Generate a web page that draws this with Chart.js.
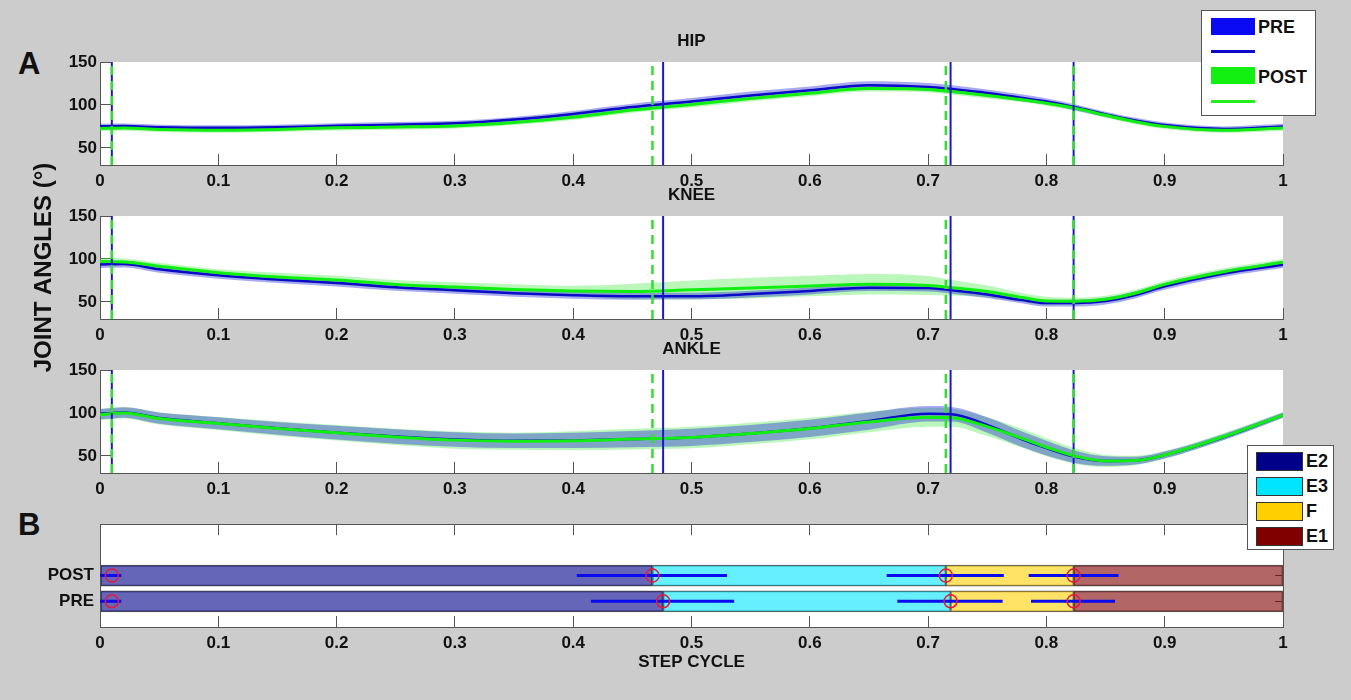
<!DOCTYPE html>
<html><head><meta charset="utf-8">
<script src="https://cdn.jsdelivr.net/npm/chart.js"></script>
<style>
html,body{margin:0;padding:0;background:#cccccc;width:1351px;height:700px;overflow:hidden;font-family:'Liberation Sans',Arial,Helvetica,sans-serif;}
canvas{position:absolute;left:0;}
.big{position:absolute;font-weight:bold;font-size:31px;line-height:31px;color:#111;}
.legend{position:absolute;background:#fff;border:1px solid #555;box-sizing:border-box;z-index:10;}
.legend div{position:absolute;}
.lt{font-weight:bold;font-size:18px;line-height:18px;color:#111;}
</style></head>
<body>
<div class="big" style="left:18px;top:48px;">A</div>
<div class="big" style="left:18px;top:509px;">B</div>
<canvas id="hip"></canvas>
<canvas id="knee"></canvas>
<canvas id="ankle"></canvas>
<canvas id="steps"></canvas>

<div class="legend" style="left:1201px;top:10px;width:115px;height:106px;">
  <div style="left:9px;top:7px;width:44px;height:17px;background:#0a0af5;"></div>
  <div class="lt" style="left:56px;top:7px;">PRE</div>
  <div style="left:9px;top:39px;width:44px;height:3px;background:#0a0ac8;"></div>
  <div style="left:9px;top:56px;width:44px;height:17px;background:#11f011;"></div>
  <div class="lt" style="left:56px;top:57px;">POST</div>
  <div style="left:9px;top:89px;width:44px;height:3px;background:#22ee22;"></div>
</div>
<div class="legend" id="legB" style="left:1247px;top:445px;width:87px;height:105px;"></div>

<script>
// ---------------- data ----------------
const X = [0,0.02,0.05,0.1,0.15,0.2,0.25,0.3,0.35,0.4,0.45,0.5,0.55,0.6,0.65,0.7,0.72,0.75,0.78,0.8,0.825,0.85,0.875,0.9,0.95,1];
const X_TICKS = [0,0.1,0.2,0.3,0.4,0.5,0.6,0.7,0.8,0.9,1];
const Y_TICKS = [50,100,150];

const HIP_PRE     = [75,75.3,74,73.3,74,75.6,77,78.5,83,89.5,97.5,104,111,117,123,121,118.5,114,108,104,97,89,82,76.5,72,75];
const HIP_PRE_SD  = [3,3,3,3,3,3,3,3,3,3.5,4,4,4.5,4.5,4.5,4.5,4.5,4,4,3.5,3.5,3,3,3,3,3];
const HIP_POST    = [72.5,73,71.5,70.6,71.5,73.3,74.2,75.5,79.5,85.5,94,100.5,107.5,113.5,119,118,115.5,111,106,102,96,88,80.5,75,70.5,73];
const HIP_POST_SD = [3,3,3,3,3,3,3,3,3,3,3,3.5,3.5,3.5,3.5,3.5,3.5,3.5,3,3,3,3,3,3,3,3];

const KNEE_PRE     = [93.5,94,88,81,76,72,67,63.5,60,57.7,56.5,56.6,59,62.6,66.5,66,63.5,58.5,52,48.5,48.5,51,58,68,83,93.3];
const KNEE_PRE_SD  = [4,4,4,4,4,4,4,4,4,4,4,4,4,4,4,4,4,4,4,4,4,4,4,4,4,4];
const KNEE_POST    = [97,96.5,91.5,84,79,75.5,70.3,67.2,64.5,62.6,62,64,66,68.4,70.5,69,66.5,62,55,51,50.8,53,60,70.3,85,96];
const KNEE_POST_SD = [4,4,4,4,5,5,5,5.5,6,6,9,11,12,12,12,11,9,7,5,5,4,4,4,4,4,4];

const ANKLE_PRE     = [98.5,100.5,94,88,82,77,72.5,69,67.5,68,69.5,71.5,76,82,90.5,99,98.5,86,69,59,48.5,44,44.5,51,72,97.5];
const ANKLE_PRE_SD  = [6,6,6.5,7,7.5,8,8.5,8.5,8.5,9,9.5,10,10,10,10,9,8.5,9,9,8.5,7,5.5,4.5,4,3.5,3];
const ANKLE_POST    = [98,100,93.5,87.7,81.8,76.8,72,68.3,67,67.5,69.5,71.4,76,81.8,89.5,95,94.5,84,70,60,49.5,44,44.5,51,72.5,97.5];
const ANKLE_POST_SD = [6.5,6.5,7,7.5,8.5,9,9.5,10,10,11,12,12.5,12.5,12.5,12,11,10.5,11,11,10.5,9,7,5.5,4.5,4,3.5];

const PRE_EVENTS  = [0.01,0.476,0.719,0.823];
const POST_EVENTS = [0.01,0.467,0.715,0.823];
const PRE_EV_LO  = [0.000,0.415,0.674,0.787];
const PRE_EV_HI  = [0.018,0.536,0.763,0.858];
const POST_EV_LO = [0.000,0.403,0.665,0.785];
const POST_EV_HI = [0.018,0.530,0.764,0.861];

const GROUPS = ['POST','PRE'];
const PHASES = ['E2','E3','F','E1'];
// ---------------- styles ----------------
const PHASE_RGB = ['0,0,136','0,229,255','255,208,0','128,0,0'];
const FONT = "'Liberation Sans', Arial, Helvetica, sans-serif";
const TXT = '#111111', AX = '#555555';
const tickFont = {family: FONT, size: 17, weight: 'bold'};

const whiteArea = {id:'whiteArea', beforeDraw(c){const a=c.chartArea, ctx=c.ctx; ctx.save(); ctx.fillStyle='#ffffff'; ctx.fillRect(a.left,a.top,a.width,a.height); ctx.restore();}};

function xAxis(h, extra) {
  return Object.assign({
    type:'linear', axis:'x', position:'bottom', min:0, max:1, offset:false,
    afterBuildTicks: s => { s.ticks = X_TICKS.map(v => ({value:v})); },
    ticks:{font:tickFont, color:TXT, padding:17.5, autoSkip:false, maxRotation:0, callback:v => String(v)},
    grid:{drawOnChartArea:false, offset:false, tickLength:-11, tickColor:AX, color:AX, tickWidth:1},
    border:{color:AX, width:1},
    afterFit: s => { s.height = h; }
  }, extra || {});
}

const pts = ys => X.map((x,i) => ({x, y: ys[i]}));

function anglePanel(id, plotTop, padTop, padBottom, title, yTitle, pre, preSd, post, postSd) {
  const cv = document.getElementById(id);
  cv.width = 1351; cv.height = padTop + 29 + 103 + 30 + padBottom;
  cv.style.top = (plotTop - 29 - padTop) + 'px';
  const ds = [];
  ds.push({data: pts(post.map((v,i)=>v+postSd[i])), fill:'+1', backgroundColor:'rgba(50,230,50,0.33)', borderWidth:0, cubicInterpolationMode:'monotone', order:50});
  ds.push({data: pts(post.map((v,i)=>v-postSd[i])), fill:false, borderWidth:0, cubicInterpolationMode:'monotone', order:50});
  ds.push({data: pts(pre.map((v,i)=>v+preSd[i])), fill:'+1', backgroundColor:'rgba(30,30,220,0.38)', borderWidth:0, cubicInterpolationMode:'monotone', order:40});
  ds.push({data: pts(pre.map((v,i)=>v-preSd[i])), fill:false, borderWidth:0, cubicInterpolationMode:'monotone', order:40});
  ds.push({data: pts(pre), borderColor:'#0a0ac8', borderWidth:2.5, fill:false, cubicInterpolationMode:'monotone', order:30});
  ds.push({data: pts(post), borderColor:'#11ee11', borderWidth:3, fill:false, cubicInterpolationMode:'monotone', order:20});
  PRE_EVENTS.forEach(e => ds.push({data:[{x:e,y:30},{x:e,y:150}], borderColor:'#1a1ac0', borderWidth:2, fill:false, order:10}));
  POST_EVENTS.forEach(e => ds.push({data:[{x:e,y:30},{x:e,y:150}], borderColor:'#33dd33', borderWidth:2.5, borderDash:[9,6], fill:false, order:5}));
  new Chart(cv, {
    type:'line',
    data:{datasets: ds},
    options:{
      responsive:false, animation:false, devicePixelRatio:1, events:[],
      layout:{padding:{left:0, right:68, top:padTop, bottom:padBottom}},
      elements:{point:{radius:0}, line:{tension:0}},
      plugins:{
        legend:{display:false}, tooltip:{enabled:false},
        title:{display:true, text:title, fullSize:false, color:TXT, font:{family:FONT, size:17, weight:'bold', lineHeight:1}, padding:{top:0, bottom:12}}
      },
      scales:{
        x: xAxis(30),
        y: {
          type:'linear', axis:'y', position:'left', min:30, max:150,
          afterBuildTicks: s => { s.ticks = Y_TICKS.map(v => ({value:v})); },
          ticks:{font:tickFont, color:TXT, padding:14},
          grid:{drawOnChartArea:false, tickLength:-11, tickColor:AX, color:AX},
          border:{color:AX, width:1},
          title: yTitle ? {display:true, text:yTitle, color:TXT, font:{family:FONT, size:24, weight:'bold', lineHeight:1}, padding:{top:32, bottom:0}} : {display:false},
          afterFit: s => { s.width = 100; }
        }
      }
    },
    plugins:[whiteArea]
  });
}

anglePanel('hip', 62, 0, 0, 'HIP', null, HIP_PRE, HIP_PRE_SD, HIP_POST, HIP_POST_SD);
anglePanel('knee', 216, 60, 60, 'KNEE', 'JOINT ANGLES (°)', KNEE_PRE, KNEE_PRE_SD, KNEE_POST, KNEE_POST_SD);
anglePanel('ankle', 370, 0, 0, 'ANKLE', null, ANKLE_PRE, ANKLE_PRE_SD, ANKLE_POST, ANKLE_POST_SD);

// ---------------- panel B ----------------
const Y_LABELS_B = ['', '', ...GROUPS, ''];
const EVENTS = {POST: POST_EVENTS, PRE: PRE_EVENTS};
const LO = {POST: POST_EV_LO, PRE: PRE_EV_LO};
const HI = {POST: POST_EV_HI, PRE: PRE_EV_HI};
const bounds = g => [0, EVENTS[g][1], EVENTS[g][2], EVENTS[g][3], 1];

const dsB = [];
PHASES.forEach((p, k) => {
  dsB.push({
    type:'bar', label:p, indexAxis:'y', grouped:false, barThickness:21,
    data: Y_LABELS_B.map(l => GROUPS.includes(l) ? [bounds(l)[k], bounds(l)[k+1]] : null),
    backgroundColor:`rgba(${PHASE_RGB[k]},0.6)`, borderColor:'#555', borderWidth:1, borderSkipped:false, order:10
  });
});
GROUPS.forEach(g => LO[g].forEach((l, i) => dsB.push({
  type:'line', data:[{x:l, y:g},{x:HI[g][i], y:g}], borderColor:'#0a0aee', borderWidth:3, pointRadius:0, fill:false, order:5
})));
GROUPS.forEach(g => dsB.push({
  type:'line', showLine:false, data: EVENTS[g].map(e => ({x:e, y:g})),
  pointRadius:6.5, pointStyle:'circle', pointBorderColor:'#e6193c', pointBackgroundColor:'rgba(0,0,0,0)', pointBorderWidth:1.5, order:1
}));

const cvB = document.getElementById('steps');
cvB.width = 1351; cvB.height = 24 + 103 + 44 + 5; cvB.style.top = (524 - 24) + 'px';
const catGrid = c => Y_LABELS_B[c.index] ? AX : 'rgba(0,0,0,0)';
new Chart(cvB, {
  type:'bar',
  data:{labels: Y_LABELS_B, datasets: dsB},
  options:{
    responsive:false, animation:false, devicePixelRatio:1, events:[],
    layout:{autoPadding:false, padding:{left:0, right:68, top:5, bottom:5}},
    plugins:{legend:{display:false}, tooltip:{enabled:false}},
    scales:{
      x: xAxis(44, {title:{display:true, text:'STEP CYCLE', color:TXT, font:{family:FONT, size:17, weight:'bold', lineHeight:1}, padding:{top:0, bottom:0}}}),
      xTop: {
        type:'linear', axis:'x', position:'top', min:0, max:1, offset:false,
        afterBuildTicks: s => { s.ticks = X_TICKS.map(v => ({value:v})); },
        ticks:{display:false},
        grid:{drawOnChartArea:false, offset:false, tickLength:-11, tickColor:AX, color:AX},
        border:{color:AX, width:1},
        afterFit: s => { s.height = 0; }
      },
      y: {
        type:'category', axis:'y', position:'left', labels:Y_LABELS_B, offset:false,
        ticks:{font:tickFont, color:TXT, padding:14, autoSkip:false},
        grid:{drawOnChartArea:false, offset:false, tickLength:-8, color:catGrid},
        border:{color:AX, width:1},
        afterFit: s => { s.width = 100; }
      },
      yRight: {
        type:'category', axis:'y', position:'right', labels:Y_LABELS_B, offset:false,
        ticks:{display:false},
        grid:{drawOnChartArea:false, offset:false, tickLength:-8, color:catGrid},
        border:{color:AX, width:1},
        afterFit: s => { s.width = 0; }
      }
    }
  },
  plugins:[whiteArea]
});

// legend B
const legB = document.getElementById('legB');
PHASES.forEach((p, k) => {
  const r = document.createElement('div');
  r.style.cssText = `left:8px;top:${6 + 25*k}px;width:45px;height:17px;background:rgb(${PHASE_RGB[k]});border:1px solid #333;`;
  legB.appendChild(r);
  const t = document.createElement('div');
  t.className = 'lt'; t.textContent = p;
  t.style.cssText = `left:58px;top:${6 + 25*k}px;`;
  legB.appendChild(t);
});
</script>
</body></html>
